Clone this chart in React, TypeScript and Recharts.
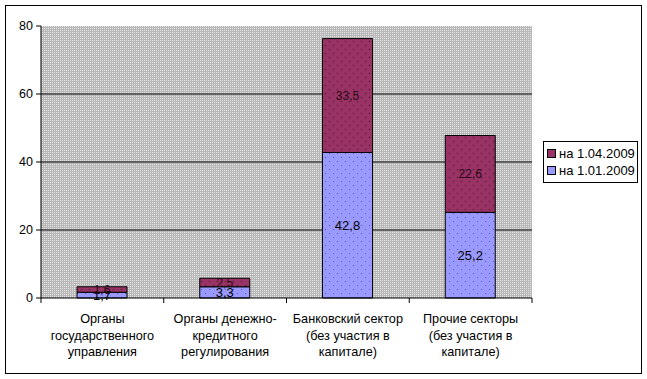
import React from "react";
import { BarChart, Bar, XAxis, YAxis, CartesianGrid, LabelList } from "recharts";

const categories = [
  "Органы\nгосударственного\nуправления",
  "Органы денежно-\nкредитного\nрегулирования",
  "Банковский сектор\n(без участия в\nкапитале)",
  "Прочие секторы\n(без участия в\nкапитале)",
];
const valuesJan = [1.7, 3.3, 42.8, 25.2];
const valuesApr = [1.6, 2.5, 33.5, 22.6];
const seriesNames = ["на 1.01.2009", "на 1.04.2009"];
const yTicks = [0, 20, 40, 60, 80];

const data = categories.map((c, i) => ({ name: c, jan: valuesJan[i], apr: valuesApr[i] }));

const W = 647;
const H = 379;
const margin = { top: 26, right: 115, bottom: 0, left: 0 };
const yAxisWidth = 41;
const xAxisHeight = 81;
const plotWidth = W - margin.left - margin.right - yAxisWidth;
const halfBand = plotWidth / categories.length / 2;
const FONT = "'Liberation Sans', Arial, sans-serif";

const fmt = (v: any) => String(v).replace(".", ",");

const XTick = (props: any) => {
  const { x, y, payload, index } = props;
  const lines = String(payload.value).split("\n");
  const axisY = y;
  return (
    <g>
      <line x1={x - halfBand} x2={x - halfBand} y1={axisY} y2={axisY + 5} stroke="#000" />
      {index === categories.length - 1 && (
        <line x1={x + halfBand} x2={x + halfBand} y1={axisY} y2={axisY + 5} stroke="#000" />
      )}
      <text x={x} y={axisY + 25} textAnchor="middle" fontSize={12.7} fontFamily={FONT} fill="#000">
        {lines.map((l, i) => (
          <tspan key={i} x={x} dy={i === 0 ? 0 : 16.7}>
            {l}
          </tspan>
        ))}
      </text>
    </g>
  );
};

const LegendBox = () => {
  const items = [
    { name: seriesNames[1], color: "#993366" },
    { name: seriesNames[0], color: "#9999FF" },
  ];
  return (
    <div
      style={{
        position: "absolute",
        left: 543,
        top: 141,
        border: "1px solid #000",
        background: "#fff",
        width: 95,
        height: 42,
        boxSizing: "border-box",
        padding: "3px 0 0 3px",
        fontFamily: FONT,
        fontSize: 13,
        lineHeight: "17px",
      }}
    >
      {items.map((it) => (
        <div key={it.name} style={{ display: "flex", alignItems: "center", whiteSpace: "nowrap" }}>
          <span
            style={{
              display: "inline-block",
              width: 7,
              height: 7,
              background: it.color,
              border: "1px solid #000",
              marginRight: 3,
            }}
          />
          <span>{it.name}</span>
        </div>
      ))}
    </div>
  );
};

export default function App() {
  return (
    <div style={{ position: "absolute", left: 0, top: 0, width: W, height: H, background: "#fff" }}>
      <div
        style={{
          position: "absolute",
          left: 5,
          top: 5,
          width: 637,
          height: 369,
          boxSizing: "border-box",
          border: "1px solid #000",
        }}
      />
      <div style={{ position: "absolute", left: 0, top: 0 }}>
        <BarChart width={W} height={H} data={data} margin={margin} barSize={50}>
          <defs>
            <pattern id="bgPat" width="2" height="2" patternUnits="userSpaceOnUse">
              <rect width="2" height="2" fill="#b8b8b8" />
              <rect width="1" height="1" fill="#e4e4e4" />
            </pattern>
            <pattern id="aprPat" width="8" height="8" patternUnits="userSpaceOnUse">
              <rect width="8" height="8" fill="#993366" />
              <rect x="1" y="1" width="1" height="1" fill="#33001a" />
              <rect x="5" y="5" width="1" height="1" fill="#33001a" />
            </pattern>
            <pattern id="janPat" width="8" height="8" patternUnits="userSpaceOnUse">
              <rect width="8" height="8" fill="#9999FF" />
              <rect x="1" y="1" width="1" height="1" fill="#5555bb" />
              <rect x="5" y="5" width="1" height="1" fill="#5555bb" />
            </pattern>
          </defs>
          <CartesianGrid
            vertical={false}
            stroke="#000"
            fill="url(#bgPat)"
            fillOpacity={1}
            horizontalValues={[20, 40, 60]}
          />
          <XAxis
            dataKey="name"
            height={xAxisHeight}
            tickLine={false}
            axisLine={{ stroke: "#000" }}
            tick={<XTick />}
            interval={0}
            tickSize={0}
            tickMargin={0}
          />
          <YAxis
            width={yAxisWidth}
            domain={[0, 80]}
            ticks={yTicks}
            tickSize={5}
            tickLine={{ stroke: "#000" }}
            axisLine={{ stroke: "#000" }}
            tick={{ fill: "#000", fontSize: 12.5, fontFamily: FONT }}
            tickMargin={3}
          />
          <Bar dataKey="jan" name={seriesNames[0]} stackId="a" fill="url(#janPat)" stroke="#000" strokeWidth={1} isAnimationActive={false}>
            <LabelList dataKey="jan" position="center" formatter={fmt} fill="#000" fontSize={13} fontFamily={FONT} />
          </Bar>
          <Bar dataKey="apr" name={seriesNames[1]} stackId="a" fill="url(#aprPat)" stroke="#000" strokeWidth={1} isAnimationActive={false}>
            <LabelList dataKey="apr" position="center" formatter={fmt} fill="#2a0a15" fontSize={12} fontFamily={FONT} />
          </Bar>
        </BarChart>
      </div>
      <LegendBox />
    </div>
  );
}
